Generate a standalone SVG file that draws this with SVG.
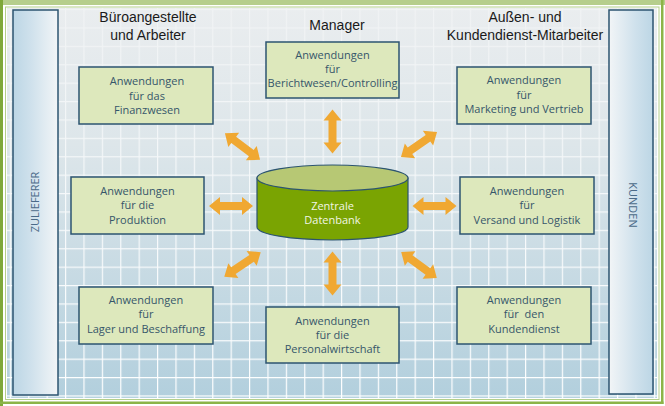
<svg xmlns="http://www.w3.org/2000/svg" width="665" height="406" viewBox="0 0 665 406">
  <defs>
    <linearGradient id="panelGrad" x1="0" y1="0" x2="0" y2="1">
      <stop offset="0" stop-color="#eaedef"/>
      <stop offset="0.35" stop-color="#dde6ea"/>
      <stop offset="1" stop-color="#b2cfdd"/>
    </linearGradient>
    <linearGradient id="fadeGrad" x1="0" y1="0" x2="0" y2="1">
      <stop offset="0" stop-color="#ffffff" stop-opacity="0.35"/>
      <stop offset="0.5" stop-color="#ffffff" stop-opacity="0.8"/>
      <stop offset="1" stop-color="#ffffff" stop-opacity="1"/>
    </linearGradient>
    <mask id="gridMask" maskUnits="userSpaceOnUse" x="0" y="0" width="665" height="406">
      <rect x="7" y="8" width="650" height="390" fill="url(#fadeGrad)"/>
    </mask>
    <linearGradient id="barLeft" x1="0" y1="0" x2="1" y2="0">
      <stop offset="0" stop-color="#bcd6e5"/>
      <stop offset="0.4" stop-color="#cfe1ec"/>
      <stop offset="1" stop-color="#f2f5f7"/>
    </linearGradient>
    <linearGradient id="barRight" x1="0" y1="0" x2="1" y2="0">
      <stop offset="0" stop-color="#f2f5f7"/>
      <stop offset="0.6" stop-color="#cfe1ec"/>
      <stop offset="1" stop-color="#bcd6e5"/>
    </linearGradient>
    <pattern id="grid" patternUnits="userSpaceOnUse" x="9.8" y="9" width="18.4" height="18.4">
      <path d="M0 0.6 H18.4 M0.6 0 V18.4" stroke="#ffffff" stroke-width="1.2" fill="none"/>
    </pattern>
    <path id="arrow" d="M-22,0 L-11,-9 L-11,-4 L11,-4 L11,-9 L22,0 L11,9 L11,4 L-11,4 L-11,9 Z"/>
  </defs>
  <style>
    .box { fill: #dde8bc; stroke: #2c5470; stroke-width: 1.5; }
    .btxt { font-family: "Open Sans", "Liberation Sans", sans-serif; font-size: 11px; fill: #36566a; text-anchor: middle; }
    .head { font-family: "Liberation Sans", Arial, sans-serif; font-size: 14px; fill: #1a1a1a; text-anchor: middle; }
    .side { stroke: #2c5470; stroke-width: 1.5; }
    .stxt { font-family: "Open Sans", "Liberation Sans", sans-serif; font-size: 11px; fill: #4a6a88; text-anchor: middle; }
    .arr { fill: #f0a832; }
    .db { stroke: #2c5470; stroke-width: 1.2; }
    .dbtxt { font-family: "Open Sans", "Liberation Sans", sans-serif; font-size: 11px; fill: #f2f6e4; text-anchor: middle; }
  </style>

  <!-- frame -->
  <rect x="0" y="0" width="665" height="406" fill="#ffffff"/>
  <rect x="0" y="0" width="665" height="5" fill="#b6ce8c"/>
  <rect x="0" y="0" width="3" height="406" fill="#7fa83a"/>
  <rect x="661" y="0" width="2.5" height="404" fill="#8cb448"/>
  <rect x="0" y="401.5" width="663.5" height="2.5" fill="#8cb448"/>
  <rect x="5.5" y="7" width="653.5" height="392.5" fill="none" stroke="#b4cf8a" stroke-width="1"/>

  <!-- panel -->
  <rect x="7" y="8" width="650" height="390" fill="url(#panelGrad)"/>
  <rect x="7" y="8" width="650" height="390" fill="url(#grid)" mask="url(#gridMask)"/>

  <!-- side bars -->
  <g id="zulieferer">
    <rect class="side" x="13" y="10" width="45" height="385" fill="url(#barLeft)"/>
    <text class="stxt" transform="translate(39,202) rotate(-90)">ZULIEFERER</text>
  </g>
  <g id="kunden">
    <rect class="side" x="609" y="10" width="44" height="384" fill="url(#barRight)"/>
    <text class="stxt" transform="translate(629,205) rotate(90)">KUNDEN</text>
  </g>

  <!-- headings -->
  <g id="headings">
    <text class="head" x="148" y="22">Büroangestellte</text>
    <text class="head" x="148" y="39.5">und Arbeiter</text>
    <text class="head" x="337" y="30">Manager</text>
    <text class="head" x="525" y="22">Außen- und</text>
    <text class="head" x="525" y="39.5">Kundendienst-Mitarbeiter</text>
  </g>

  <!-- connectors -->
  <g id="connectors">
    <use href="#arrow" class="arr" transform="translate(332.5,131.5) rotate(90)"/>
    <use href="#arrow" class="arr" transform="translate(332.5,273.5) rotate(90)"/>
    <use href="#arrow" class="arr" transform="translate(231,206)"/>
    <use href="#arrow" class="arr" transform="translate(434.5,206)"/>
    <use href="#arrow" class="arr" transform="translate(242.5,146.5) rotate(37)"/>
    <use href="#arrow" class="arr" transform="translate(419,144.5) rotate(-35)"/>
    <use href="#arrow" class="arr" transform="translate(242.5,264.5) rotate(-34)"/>
    <use href="#arrow" class="arr" transform="translate(419,265) rotate(36)"/>
  </g>

  <!-- central database -->
  <g id="datenbank">
    <path class="db" d="M257,178 V227 A75.5,13 0 0 0 408,227 V178 Z" fill="#7aa402"/>
    <ellipse class="db" cx="332.5" cy="178" rx="75.5" ry="13" fill="#b7c874"/>
    <text class="dbtxt" x="332.5" y="210">Zentrale</text>
    <text class="dbtxt" x="332.5" y="224">Datenbank</text>
  </g>

  <!-- application nodes -->
  <g id="finanzwesen">
    <rect class="box" x="79" y="67" width="134" height="57"/>
    <text class="btxt" x="147" y="85">Anwendungen</text>
    <text class="btxt" x="147" y="99.5">für das</text>
    <text class="btxt" x="147" y="113.5">Finanzwesen</text>
  </g>
  <g id="berichtwesen">
    <rect class="box" x="266" y="42" width="133" height="56"/>
    <text class="btxt" x="332.5" y="59">Anwendungen</text>
    <text class="btxt" x="332.5" y="73">für</text>
    <text class="btxt" x="332.5" y="87">Berichtwesen/Controlling</text>
  </g>
  <g id="marketing">
    <rect class="box" x="457" y="67" width="134" height="57"/>
    <text class="btxt" x="524" y="84">Anwendungen</text>
    <text class="btxt" x="524" y="98.5">für</text>
    <text class="btxt" x="524" y="113">Marketing und Vertrieb</text>
  </g>
  <g id="produktion">
    <rect class="box" x="71" y="177" width="133" height="57"/>
    <text class="btxt" x="137.5" y="194.5">Anwendungen</text>
    <text class="btxt" x="137.5" y="209">für die</text>
    <text class="btxt" x="137.5" y="223.5">Produktion</text>
  </g>
  <g id="versand">
    <rect class="box" x="460" y="177" width="134" height="57"/>
    <text class="btxt" x="527" y="194.5">Anwendungen</text>
    <text class="btxt" x="527" y="209">für</text>
    <text class="btxt" x="527" y="223.5">Versand und Logistik</text>
  </g>
  <g id="lager">
    <rect class="box" x="79" y="287" width="134" height="57"/>
    <text class="btxt" x="146" y="303.5">Anwendungen</text>
    <text class="btxt" x="146" y="318">für</text>
    <text class="btxt" x="146" y="333">Lager und Beschaffung</text>
  </g>
  <g id="personalwirtschaft">
    <rect class="box" x="266" y="307" width="133" height="56"/>
    <text class="btxt" x="332.5" y="324.5">Anwendungen</text>
    <text class="btxt" x="332.5" y="339">für die</text>
    <text class="btxt" x="332.5" y="353">Personalwirtschaft</text>
  </g>
  <g id="kundendienst">
    <rect class="box" x="457" y="287" width="134" height="57"/>
    <text class="btxt" x="524" y="303.5">Anwendungen</text>
    <text class="btxt" x="524" y="318" xml:space="preserve">für  den</text>
    <text class="btxt" x="524" y="333">Kundendienst</text>
  </g>
</svg>
